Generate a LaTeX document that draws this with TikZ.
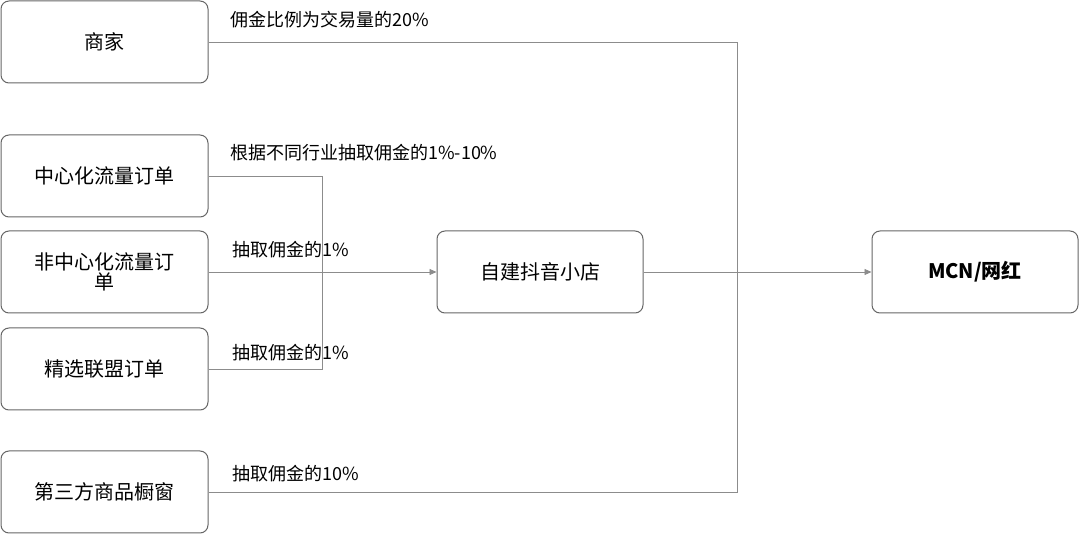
\documentclass[tikz,border=0pt]{standalone}
\usepackage{fontspec}
\setmainfont{Noto Sans CJK SC}
\usetikzlibrary{arrows.meta}
\begin{document}
\begin{tikzpicture}[x=1pt,y=-1pt,
 box/.style={draw=black!60,line width=1pt,rounded corners=8pt,fill=white,align=center,font=\fontsize{20}{24}\selectfont},
 ln/.style={draw=black!45,line width=0.8pt},
 lab/.style={anchor=west,font=\fontsize{18}{22}\selectfont,inner sep=0pt}]
\useasboundingbox (0,0) rectangle (1080,534);
\node[box,minimum width=207pt,minimum height=82pt] (sj) at (104.5,42) {商家};
\node[box,minimum width=207pt,minimum height=82pt] (zx) at (104.5,176) {中心化流量订单};
\node[box,minimum width=207pt,minimum height=82pt,text width=180pt] (fzx) at (104.5,272) {非中心化流量订\\[-4pt]单};
\node[box,minimum width=207pt,minimum height=82pt] (jx) at (104.5,369) {精选联盟订单};
\node[box,minimum width=207pt,minimum height=82pt] (ds) at (104.5,492) {第三方商品橱窗};
\node[box,minimum width=206pt,minimum height=82pt] (dy) at (540,272) {自建抖音小店};
\node[box,minimum width=206pt,minimum height=82pt,font=\fontsize{20}{24}\selectfont\bfseries] (mcn) at (975,272) {MCN/网红};
\coordinate (j) at (737,272);
\coordinate (c) at (322,176);
\draw[ln] (sj.east) -| (j);
\draw[ln] (ds.east) -| (j);
\draw[ln] (zx.east) -- (c) |- (jx.east);
\draw[ln,-{Triangle[length=7pt,width=6pt]}] (fzx.east) -- (dy.west);
\draw[ln,-{Triangle[length=7pt,width=6pt]}] (dy.east) -- (mcn.west);
\node[lab] (l1) at (230,20) {佣金比例为交易量的20\%};
\node[lab] (l2) at (230,153) {根据不同行业抽取佣金的1\%-10\%};
\node[lab] (l3) at (232,250) {抽取佣金的1\%};
\node[lab] (l4) at (232,353) {抽取佣金的1\%};
\node[lab] (l5) at (232,474) {抽取佣金的10\%};
\end{tikzpicture}
\end{document}
